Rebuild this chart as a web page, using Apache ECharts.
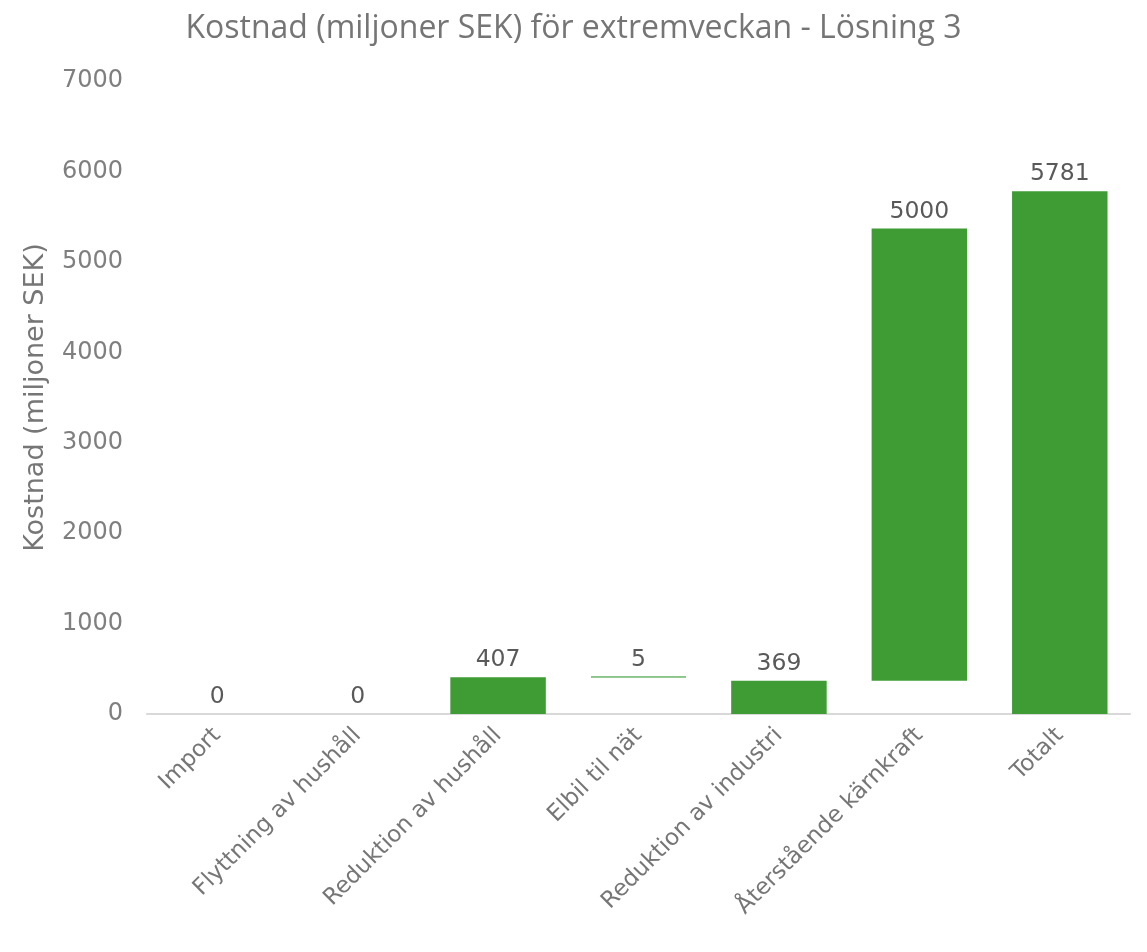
<!DOCTYPE html>
<html>
<head>
<meta charset="utf-8">
<script src="https://cdn.jsdelivr.net/npm/echarts@6/dist/echarts.min.js"></script>
<style>
  html, body { margin: 0; padding: 0; background: #fff; }
  #chart { width: 1147px; height: 952px; }
</style>
</head>
<body>
<div id="chart"></div>
<script>
// kategorier och värden (miljoner SEK)
var categories = ['Import', 'Flyttning av hushåll', 'Reduktion av hushåll', 'Elbil til nät', 'Reduktion av industri', 'Återstående kärnkraft', 'Totalt'];
var baseValues = [0, 0, 0, 407, 0, 369, 0];
var costValues = [0, 0, 407, 5, 369, 5000, 5781];
var yTicks = [0, 1000, 2000, 3000, 4000, 5000, 6000, 7000];

var labelFont = '"DejaVu Sans", Verdana, sans-serif';

// mycket små staplar syns bara som en tunn linje
var costData = costValues.map(function (v) {
    if (v > 0 && v < 50) {
        return { value: v, itemStyle: { borderColor: '#6db56a', borderWidth: 1 } };
    }
    return v;
});

var chart = echarts.init(document.getElementById('chart'));
var option = {
    animation: false,
    title: {
        text: 'Kostnad (miljoner SEK) för extremveckan - Lösning 3',
        left: 'center',
        top: 8,
        textStyle: {
            fontFamily: '"Open Sans", sans-serif',
            fontSize: 32,
            fontWeight: 'normal',
            color: '#757575'
        }
    },
    grid: {
        left: 147,
        right: 17,
        top: 81,
        bottom: 238,
        containLabel: false
    },
    xAxis: {
        type: 'category',
        data: categories,
        axisLine: { lineStyle: { color: '#d9d9d9', width: 2 } },
        axisTick: { show: false },
        axisLabel: {
            rotate: 45,
            interval: 0,
            margin: 18,
            fontSize: 23,
            fontFamily: labelFont,
            color: '#767676'
        }
    },
    yAxis: {
        type: 'value',
        min: yTicks[0],
        max: yTicks[yTicks.length - 1],
        interval: 1000,
        name: 'Kostnad (miljoner SEK)',
        nameLocation: 'middle',
        nameGap: 98,
        nameTextStyle: {
            fontSize: 27,
            fontFamily: labelFont,
            color: '#767676'
        },
        axisLine: { show: false },
        axisTick: { show: false },
        splitLine: { show: false },
        axisLabel: {
            margin: 24,
            fontSize: 24,
            fontFamily: labelFont,
            color: '#7f7f7f',
            formatter: function (v) { return String(v); }
        }
    },
    series: [
        {
            name: 'bas',
            type: 'bar',
            stack: 'total',
            barWidth: '68%',
            itemStyle: { color: 'transparent' },
            emphasis: { disabled: true },
            data: baseValues
        },
        {
            name: 'Kostnad',
            type: 'bar',
            stack: 'total',
            barWidth: '68%',
            itemStyle: { color: '#3f9c35' },
            label: {
                show: true,
                position: 'top',
                distance: 5,
                fontSize: 23.5,
                fontFamily: labelFont,
                color: '#595959'
            },
            data: costData
        }
    ]
};
chart.setOption(option);
</script>
</body>
</html>
